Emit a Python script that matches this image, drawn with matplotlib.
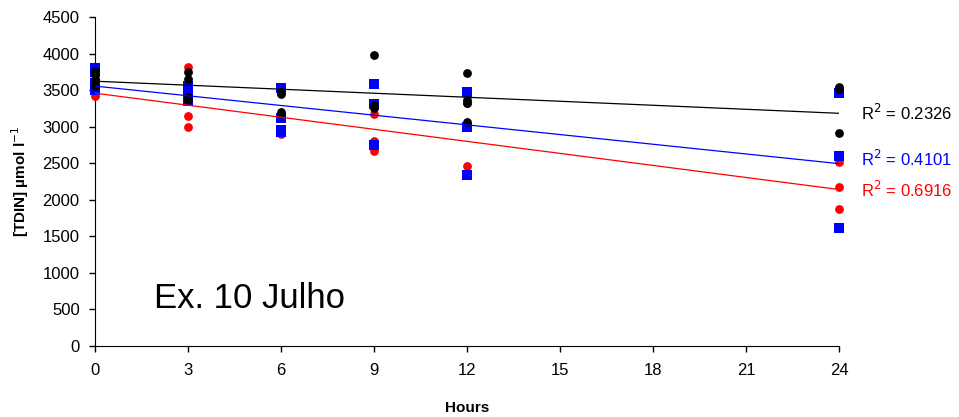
import matplotlib
matplotlib.use("Agg")
import matplotlib.pyplot as plt
import numpy as np

plt.rcParams['font.family'] = ['Liberation Sans', 'DejaVu Sans']

# Data
black_hours = [0, 0, 0, 0, 3, 3, 3, 3, 6, 6, 6, 6, 9, 9, 9, 12, 12, 12, 12, 24, 24, 24]
black_tdin = [3760, 3700, 3640, 3560, 3750, 3650, 3400, 3360, 3480, 3450, 3200, 3170,
              3980, 3300, 3260, 3730, 3360, 3330, 3060, 3540, 3520, 2910]

blue_hours = [0, 0, 0, 0, 3, 3, 3, 3, 6, 6, 6, 6, 9, 9, 9, 12, 12, 12, 24, 24, 24]
blue_tdin = [3800, 3750, 3600, 3500, 3550, 3500, 3400, 3350, 3530, 3120, 2950, 2930,
             3590, 3310, 2750, 3470, 3000, 2340, 3460, 2600, 1620]

red_hours = [0, 0, 3, 3, 3, 6, 9, 9, 9, 12, 12, 24, 24, 24]
red_tdin = [3500, 3420, 3810, 3150, 2990, 2900, 3170, 2800, 2670, 3320, 2460, 2520, 2170, 1880]

# Trend lines: intercept, slope (per hour)
black_fit = [3622, -18.3]
blue_fit = [3555, -44.2]
red_fit = [3458, -54.9]

r2_labels = ["0.2326", "0.4101", "0.6916"]

x_ticks = [0, 3, 6, 9, 12, 15, 18, 21, 24]
y_ticks = list(range(0, 4501, 500))

fig = plt.figure(figsize=(9.59, 4.17), dpi=100)
ax = fig.add_axes([95/959, 1-346/417, (839-95)/959, (346-17)/417])

ax.scatter(red_hours, red_tdin, s=40, marker='o', color='#ff0000', linewidths=0, zorder=3, clip_on=False)
ax.scatter(blue_hours, blue_tdin, s=42, marker='s', color='#0000ff', linewidths=0, zorder=4, clip_on=False)
ax.scatter(black_hours, black_tdin, s=40, marker='o', color='#000000', linewidths=0, zorder=5, clip_on=False)

xl = np.array([0, 24])
for fit, col in [(black_fit, 'black'), (blue_fit, '#0000ff'), (red_fit, '#ff0000')]:
    ax.plot(xl, fit[0] + fit[1] * xl, color=col, lw=0.9, zorder=6)

ax.set_xlim(0, 24)
ax.set_ylim(0, 4500)
ax.set_xticks(x_ticks)
ax.set_yticks(y_ticks)
ax.spines['top'].set_visible(False)
ax.spines['right'].set_visible(False)
ax.tick_params(axis='both', direction='out', length=4, width=1, labelsize=12)
ax.tick_params(axis='y', pad=7)
ax.tick_params(axis='x', pad=8)

ax.set_xlabel('Hours', fontsize=11, fontweight='bold', labelpad=17)
ax.set_ylabel('[TDIN] µmol l$^{\\mathsf{-1}}$', fontsize=11, fontweight='bold', labelpad=8)

# R² labels
for txt, col, yv in [(r2_labels[0], 'black', 3190), (r2_labels[1], '#0000ff', 2560), (r2_labels[2], '#ff0000', 2135)]:
    ax.text(24.7, yv, 'R$^2$ = ' + txt, color=col, fontsize=12, va='center', ha='left', clip_on=False)

ax.text(1.9, 650, 'Ex. 10 Julho', fontsize=25, va='center', ha='left')

fig.savefig('out.png', dpi=100)
